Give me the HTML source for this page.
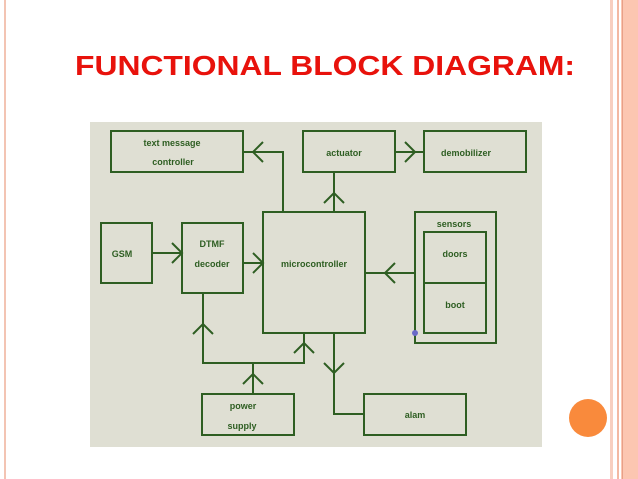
<!DOCTYPE html>
<html><head><style>html,body{margin:0;padding:0;background:#fff;}svg{display:block}</style></head>
<body>
<svg width="638" height="479" viewBox="0 0 638 479" xmlns="http://www.w3.org/2000/svg">
<rect x="0" y="0" width="638" height="479" fill="#fff"/>
<rect x="4" y="0" width="2" height="479" fill="#f3c4b3"/>
<rect x="610" y="0" width="3" height="479" fill="#f8cfc0"/>
<rect x="617" y="0" width="2" height="479" fill="#f3b9a3"/>
<rect x="621" y="0" width="17" height="479" fill="#fcc6b1"/>
<rect x="622" y="0" width="1" height="479" fill="#e8a088"/>
<circle cx="588" cy="418" r="19" fill="#f98a3c"/>
<text x="75" y="75" font-family="Liberation Sans, sans-serif" font-weight="bold" font-size="28" fill="#e8120c" textLength="500" lengthAdjust="spacingAndGlyphs">FUNCTIONAL BLOCK DIAGRAM:</text>
<rect x="90" y="122" width="452" height="325" fill="#dfdfd3"/>
<g fill="none" stroke="#2e5e22" stroke-width="2">
<rect x="111" y="131" width="132" height="41"/>
<rect x="303" y="131" width="92" height="41"/>
<rect x="424" y="131" width="102" height="41"/>
<rect x="101" y="223" width="51" height="60"/>
<rect x="182" y="223" width="61" height="70"/>
<rect x="263" y="212" width="102" height="121"/>
<rect x="415" y="212" width="81" height="131"/>
<rect x="424" y="232" width="62" height="101"/>
<line x1="424" y1="283" x2="486" y2="283"/>
<rect x="202" y="394" width="92" height="41"/>
<rect x="364" y="394" width="102" height="41"/>
<polyline points="283,212 283,152 243,152"/>
<polyline points="263,142 253,152 263,162"/>
<line x1="334" y1="172" x2="334" y2="212"/>
<polyline points="324,203 334,193 344,203"/>
<line x1="395" y1="152" x2="424" y2="152"/>
<polyline points="405,142 415,152 405,162"/>
<line x1="152" y1="253" x2="182" y2="253"/>
<polyline points="172,243 182,253 172,263"/>
<line x1="243" y1="263" x2="263" y2="263"/>
<polyline points="253,253 263,263 253,273"/>
<line x1="415" y1="273" x2="365" y2="273"/>
<polyline points="395,263 385,273 395,283"/>
<polyline points="203,293 203,363 304,363 304,333"/>
<polyline points="193,334 203,324 213,334"/>
<polyline points="294,353 304,343 314,353"/>
<line x1="253" y1="394" x2="253" y2="363"/>
<polyline points="243,384 253,374 263,384"/>
<polyline points="334,333 334,414 364,414"/>
<polyline points="324,363 334,373 344,363"/>
</g>
<circle cx="415" cy="333" r="3" fill="#6a6ac8"/>
<g font-family="Liberation Sans, sans-serif" font-weight="bold" font-size="9" fill="#2e5e22" text-anchor="middle">
<text x="172" y="146">text message</text>
<text x="173" y="165">controller</text>
<text x="344" y="156">actuator</text>
<text x="466" y="156">demobilizer</text>
<text x="122" y="257">GSM</text>
<text x="212" y="247">DTMF</text>
<text x="212" y="267">decoder</text>
<text x="314" y="267">microcontroller</text>
<text x="454" y="227">sensors</text>
<text x="455" y="257">doors</text>
<text x="455" y="308">boot</text>
<text x="243" y="409">power</text>
<text x="242" y="429">supply</text>
<text x="415" y="418">alam</text>
</g>
</svg>
</body></html>
